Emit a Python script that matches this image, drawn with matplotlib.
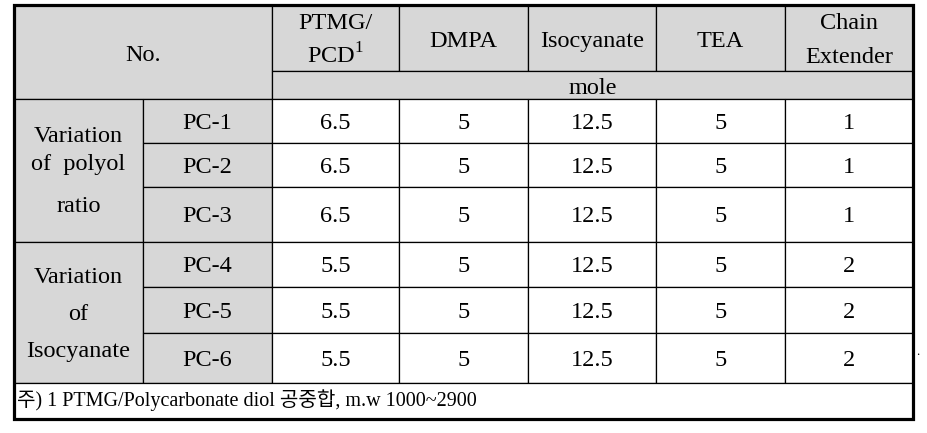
import matplotlib.pyplot as plt
from matplotlib.patches import Rectangle

plt.rcParams['mathtext.fontset'] = 'custom'
plt.rcParams['mathtext.rm'] = 'Liberation Serif'

# table content
header_names = [["PTMG/", "PCD$^{1}$"], ["DMPA"], ["Isocyanate"], ["TEA"], ["Chain", "Extender"]]
unit_label = "mole"
no_label = "No."
group_names = [["Variation", "of  polyol", "ratio"], ["Variation", "of", "Isocyanate"]]
group_sizes = [3, 3]
samples = ["PC-1", "PC-2", "PC-3", "PC-4", "PC-5", "PC-6"]
ptmg_pcd = ["6.5", "6.5", "6.5", "5.5", "5.5", "5.5"]
dmpa = ["5", "5", "5", "5", "5", "5"]
isocyanate = ["12.5", "12.5", "12.5", "12.5", "12.5", "12.5"]
tea = ["5", "5", "5", "5", "5", "5"]
chain_ext = ["1", "1", "1", "2", "2", "2"]
footnote = "주) 1 PTMG/Polycarbonate diol 공중합, m.w 1000~2900"

# layout (pixels)
col_x = [14, 143, 272, 399, 528, 656, 785, 913]
head_y = [5, 71, 99]
row_y = [99, 143, 187, 242, 287, 333, 383]
foot_y = 419
gray = '#d7d7d7'
lw = 0.9
fs = 17.5
serif = ['Liberation Serif', 'Noto Sans CJK KR']

fig = plt.figure(figsize=(9.28, 4.33), dpi=100)
ax = fig.add_axes([0, 0, 1, 1])
ax.set_xlim(0, 928)
ax.set_ylim(433, 0)
ax.axis('off')


def cell(x0, y0, x1, y1, color):
    ax.add_patch(Rectangle((x0, y0), x1 - x0, y1 - y0, facecolor=color,
                           edgecolor='black', linewidth=lw))


def txt(x, y, s, size=fs, ha='center'):
    ax.text(x, y, s, ha=ha, va='baseline', fontsize=size, family=serif, color='black')


# header
cell(col_x[0], head_y[0], col_x[2], head_y[2], gray)
txt((col_x[0] + col_x[2]) / 2, 61, no_label)
for j, name in enumerate(header_names):
    x0, x1 = col_x[j + 2], col_x[j + 3]
    cell(x0, head_y[0], x1, head_y[1], gray)
    if len(name) == 1:
        txt((x0 + x1) / 2, 47, name[0])
    else:
        txt((x0 + x1) / 2, 29, name[0])
        txt((x0 + x1) / 2, 63, name[1])
cell(col_x[2], head_y[1], col_x[-1], head_y[2], gray)
txt((col_x[2] + col_x[-1]) / 2, 94, unit_label)

# group labels
group_baselines = [[142, 170, 212], [283, 320, 357]]
start = 0
for g, lines in enumerate(group_names):
    y0, y1 = row_y[start], row_y[start + group_sizes[g]]
    cell(col_x[0], y0, col_x[1], y1, gray)
    for k, line in enumerate(lines):
        txt((col_x[0] + col_x[1]) / 2, group_baselines[g][k], line)
    start += group_sizes[g]

# sample rows
columns = [ptmg_pcd, dmpa, isocyanate, tea, chain_ext]
for i, name in enumerate(samples):
    y0, y1 = row_y[i], row_y[i + 1]
    yb = (y0 + y1) / 2 + 8
    cell(col_x[1], y0, col_x[2], y1, gray)
    txt((col_x[1] + col_x[2]) / 2, yb, name)
    for j, vals in enumerate(columns):
        x0, x1 = col_x[j + 2], col_x[j + 3]
        cell(x0, y0, x1, y1, 'white')
        txt((x0 + x1) / 2, yb, vals[i])

# footnote
cell(col_x[0], row_y[-1], col_x[-1], foot_y, 'white')
txt(17, 406, footnote, size=14.5, ha='left')

# outer border
ax.add_patch(Rectangle((col_x[0], head_y[0]), col_x[-1] - col_x[0], foot_y - head_y[0],
                       facecolor='none', edgecolor='black', linewidth=2.3))

ax.text(918, 355, '.', ha='center', va='baseline', fontsize=9, family=serif)

fig.savefig('out.png', dpi=100)
